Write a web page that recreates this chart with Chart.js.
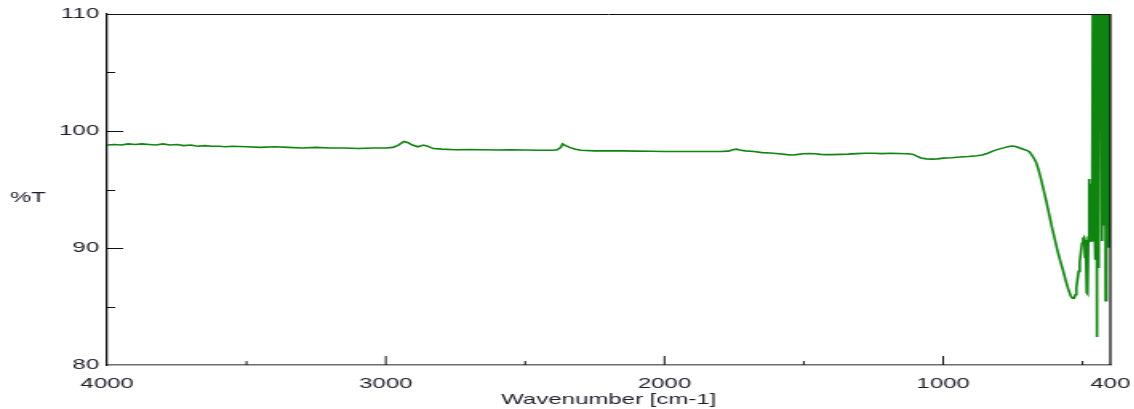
<!DOCTYPE html>
<html>
<head>
<meta charset="utf-8">
<title>IR spectrum</title>
<script src="https://cdn.jsdelivr.net/npm/chart.js@4/dist/chart.umd.min.js"></script>
<style>
  html, body { margin: 0; padding: 0; background: #fff; overflow: hidden; }
  /* the original picture is stretched sideways, so the chart is drawn narrow and widened */
  #wrap { width: 709px; height: 409px; transform: scaleX(1.6); transform-origin: 0 0; }
</style>
</head>
<body>
<div id="wrap"><canvas id="irChart" width="709" height="409"></canvas></div>
<script>
// wavenumber (cm-1) and %T, left to right
const wavenumbers = [
  4000, 3975, 3950, 3925, 3900, 3875, 3850, 3825, 3800, 3775, 3750, 3725, 3700, 3675, 3650, 3625, 3600, 3575, 3550, 3500,
  3450, 3400, 3350, 3300, 3250, 3200, 3150, 3100, 3050, 3000, 2975, 2955, 2935, 2920, 2905, 2885, 2865, 2850, 2830, 2800,
  2750, 2700, 2650, 2600, 2550, 2500, 2450, 2400, 2385, 2372, 2366, 2355, 2340, 2320, 2300, 2250, 2200, 2150, 2100, 2050,
  2000, 1950, 1900, 1850, 1800, 1770, 1755, 1742, 1730, 1710, 1680, 1650, 1620, 1590, 1560, 1540, 1520, 1500, 1480, 1460,
  1440, 1420, 1400, 1370, 1340, 1310, 1280, 1250, 1220, 1190, 1160, 1130, 1110, 1095, 1080, 1060, 1040, 1020, 1000, 970,
  940, 910, 880, 860, 840, 820, 800, 780, 765, 752, 740, 725, 710, 700, 690, 682, 674, 666, 658, 650,
  640, 630, 620, 610, 600, 590, 580, 570, 560, 550, 542, 536, 530, 526, 522, 518, 514, 510, 506, 502,
  498, 495, 493, 491, 489, 487, 485, 483, 481, 479, 477, 475, 473, 471, 469, 467, 465, 463, 461, 459,
  457, 455, 453, 451, 449, 447, 445, 443, 441, 439, 437, 435, 433, 431, 429, 427, 425, 423, 421, 419,
  417, 415, 413, 411, 409, 407, 405, 403, 401, 400
];
const transmittance = [
  98.8, 98.85, 98.8, 98.9, 98.85, 98.9, 98.85, 98.8, 98.9, 98.8, 98.85, 98.75, 98.8, 98.7, 98.75, 98.7, 98.7, 98.65, 98.7, 98.65,
  98.6, 98.65, 98.6, 98.55, 98.6, 98.55, 98.55, 98.5, 98.55, 98.55, 98.6, 98.8, 99.1, 99.0, 98.8, 98.65, 98.8, 98.7, 98.5, 98.45,
  98.4, 98.42, 98.4, 98.38, 98.4, 98.38, 98.35, 98.35, 98.4, 98.6, 98.9, 98.75, 98.6, 98.45, 98.35, 98.3, 98.3, 98.3, 98.28, 98.27,
  98.25, 98.25, 98.25, 98.25, 98.25, 98.28, 98.4, 98.45, 98.38, 98.3, 98.25, 98.15, 98.12, 98.05, 97.98, 97.95, 98.0, 98.05, 98.07, 98.05,
  98.0, 97.98, 97.98, 98.0, 98.02, 98.07, 98.1, 98.1, 98.07, 98.1, 98.08, 98.05, 98.02, 97.85, 97.7, 97.62, 97.6, 97.62, 97.68, 97.72,
  97.78, 97.82, 97.88, 97.95, 98.1, 98.3, 98.45, 98.58, 98.68, 98.72, 98.68, 98.55, 98.42, 98.35, 98.2, 97.95, 97.65, 97.3, 96.7, 96.0,
  95.0, 94.0, 92.9, 91.8, 90.8, 89.8, 88.9, 88.1, 87.2, 86.4, 85.9, 85.7, 85.7, 86.0, 86.6, 87.3, 88.0, 88.8, 89.6, 90.4,
  90.8, 90.9, 90.5, 89.2, 90.7, 90.0, 86.2, 90.0, 86.1, 91.0, 95.9, 90.5, 95.5, 91.2, 94.5, 90.6, 97.0, 115, 95, 120,
  92, 120, 89, 120, 82.4, 120, 94, 120, 88.3, 120, 100, 120, 109, 120, 90.6, 120, 96, 120, 92, 120,
  85.5, 120, 91, 120, 95, 120, 90.1, 120, 92, 120
];

const xLabelTicks = [4000, 3000, 2000, 1000, 400];
const xMajorMarks = [3000, 2000, 1000];
const xMinorMarks = [3500, 2500, 1500, 500];
const yLabelTicks = [80, 90, 100, 110];
const yMajorMarks = [90, 100];
const yMinorMarks = [85, 95, 105];

const textColor = "#1f1f2b";
const fontFamily = "'Liberation Sans', Arial, sans-serif";

const points = wavenumbers.map((w, i) => ({ x: w, y: transmittance[i] }));

// frame, inward tick marks and the flat "%T" label
const frameAndTicks = {
  id: "frameAndTicks",
  afterDatasetsDraw(chart) {
    const { ctx, chartArea: a, scales: { x, y } } = chart;
    ctx.save();
    ctx.strokeStyle = "#111";
    ctx.lineWidth = 1;
    ctx.beginPath();
    ctx.moveTo(a.left, a.top + 0.5);
    ctx.lineTo(a.right, a.top + 0.5);
    ctx.stroke();
    ctx.lineWidth = 1.3;
    ctx.beginPath();
    ctx.moveTo(a.right, a.top);
    ctx.lineTo(a.right, a.bottom);
    ctx.stroke();

    ctx.lineWidth = 1;
    ctx.beginPath();
    yMajorMarks.forEach(v => {
      const py = Math.round(y.getPixelForValue(v)) + 0.5;
      ctx.moveTo(a.left, py); ctx.lineTo(a.left + 10, py);
    });
    yMinorMarks.forEach(v => {
      const py = Math.round(y.getPixelForValue(v)) + 0.5;
      ctx.moveTo(a.left, py); ctx.lineTo(a.left + 5, py);
    });
    xMajorMarks.forEach(v => {
      const px = x.getPixelForValue(v);
      ctx.moveTo(px, a.bottom); ctx.lineTo(px, a.bottom - 9);
    });
    xMinorMarks.forEach(v => {
      const px = x.getPixelForValue(v);
      ctx.moveTo(px, a.bottom); ctx.lineTo(px, a.bottom - 4);
    });
    ctx.stroke();
    ctx.restore();
  },
  afterDraw(chart) {
    const ctx = chart.ctx;
    ctx.save();
    ctx.fillStyle = textColor;
    ctx.font = "15px " + fontFamily;
    ctx.textAlign = "center";
    ctx.textBaseline = "middle";
    ctx.fillText("%T", 17.5, 198);
    ctx.restore();
  }
};

new Chart(document.getElementById("irChart"), {
  type: "line",
  data: {
    datasets: [{
      data: points,
      borderColor: "#108410",
      borderWidth: 1.6,
      pointRadius: 0,
      tension: 0,
      fill: false
    }]
  },
  options: {
    responsive: false,
    animation: false,
    layout: { padding: { top: 13, right: 15, left: 0, bottom: 0 } },
    plugins: { legend: { display: false }, tooltip: { enabled: false } },
    scales: {
      x: {
        type: "linear",
        reverse: true,
        min: 400,
        max: 4000,
        afterBuildTicks: s => { s.ticks = xLabelTicks.map(v => ({ value: v })); },
        afterFit: s => { s.height = 44; s.paddingLeft = 0; s.paddingRight = 0; },
        grid: { display: false },
        border: { display: true, color: "#6e6e6e", width: 1.5 },
        ticks: {
          color: textColor,
          font: { family: fontFamily, size: 15 },
          padding: 2,
          maxRotation: 0,
          autoSkip: false,
          callback: v => String(v)
        },
        title: {
          display: true,
          text: "Wavenumber [cm-1]",
          color: textColor,
          font: { family: fontFamily, size: 15 },
          padding: { top: 0, bottom: 0 }
        }
      },
      y: {
        min: 80,
        max: 110,
        afterBuildTicks: s => { s.ticks = yLabelTicks.map(v => ({ value: v })); },
        afterFit: s => { s.width = 67; },
        grid: { display: false, drawTicks: false },
        border: { display: true, color: "#111", width: 1.3 },
        ticks: {
          color: textColor,
          font: { family: fontFamily, size: 15 },
          padding: 5,
          callback: v => String(v)
        }
      }
    }
  },
  plugins: [frameAndTicks]
});
</script>
</body>
</html>
